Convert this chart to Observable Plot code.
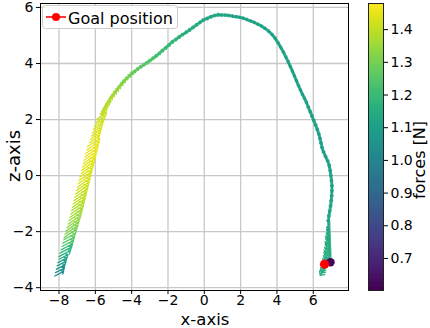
<!DOCTYPE html>
<html><head><meta charset="utf-8">
<script src="https://cdn.jsdelivr.net/npm/d3@7"></script>
<script src="https://cdn.jsdelivr.net/npm/@observablehq/plot@0.6"></script>
<style>
body{margin:0;background:#fff;}
#wrap{position:relative;width:430px;height:328px;overflow:hidden;font-family:"DejaVu Sans",sans-serif;background:#fff;}
#wrap svg{position:absolute;top:0;}
</style></head><body><div id="wrap"></div>
<script>
// trajectory positions (x, z), force magnitude, arrow direction (deg clockwise from up), arrow length (px)
const xs = [
 -7.99,-7.95,-7.91,-7.86,-7.81,-7.75,-7.69,-7.63,-7.57,-7.52,-7.47,-7.42,-7.38,-7.33,-7.27,-7.22,-7.16,-7.11,-7.06,-7.01,-6.97,-6.92,-6.88,-6.83,-6.79,-6.74,-6.70,-6.65,-6.61,-6.56,-6.51,-6.46,-6.42,-6.37,-6.32,-6.28,-6.23,-6.19,-6.14,-6.10,-6.05,-6.00,-5.95,-5.90,-5.85,-5.79,-5.72,-5.65,
 -5.55,-5.48,-5.41,-5.33,-5.24,-5.14,-5.03,-4.91,-4.79,-4.66,-4.53,-4.39,-4.24,-4.09,-3.93,-3.77,-3.60,-3.43,-3.26,-3.09,-2.92,-2.75,-2.57,-2.40,-2.22,-2.04,-1.86,-1.67,-1.48,-1.29,-1.10,-0.91,-0.72,-0.53,-0.34,-0.15,0.05,0.25,0.45,0.65,
 0.85,1.05,1.25,1.45,1.65,1.85,2.05,2.25,2.45,2.65,2.85,3.05,3.25,3.45,3.65,3.83,4.00,4.15,4.30,4.44,4.57,4.69,4.81,4.92,5.03,5.14,5.25,5.36,5.47,5.58,
 5.68,5.78,5.88,5.98,6.08,6.18,6.27,6.34,6.40,6.45,6.52,6.62,6.74,6.84,6.91,6.95,6.99,7.02,7.03,7.02,7.00,6.97,6.93,6.88,6.84,
 6.86,6.86,6.87,6.87,6.88,6.88,6.89,6.89,6.90,6.90,6.91,6.91,6.92,6.92,6.92,6.91,6.90
];
const zs = [
 -3.50,-3.38,-3.26,-3.14,-3.02,-2.90,-2.78,-2.66,-2.54,-2.42,-2.30,-2.18,-2.06,-1.94,-1.82,-1.70,-1.58,-1.46,-1.34,-1.22,-1.10,-0.98,-0.86,-0.74,-0.62,-0.50,-0.38,-0.26,-0.14,-0.02,0.10,0.22,0.34,0.46,0.58,0.70,0.82,0.94,1.06,1.18,1.30,1.42,1.54,1.66,1.78,1.90,2.02,2.14,
 2.30,2.40,2.49,2.58,2.68,2.78,2.88,2.98,3.08,3.19,3.29,3.39,3.49,3.58,3.67,3.75,3.84,3.91,3.98,4.06,4.14,4.22,4.31,4.41,4.51,4.61,4.72,4.81,4.90,4.99,5.07,5.15,5.24,5.33,5.42,5.51,5.58,5.64,5.69,5.72,
 5.73,5.73,5.72,5.70,5.68,5.66,5.63,5.59,5.54,5.49,5.43,5.37,5.29,5.20,5.09,4.96,4.80,4.64,4.47,4.30,4.13,3.96,3.79,3.62,3.45,3.28,3.12,2.96,2.82,2.68,
 2.52,2.36,2.20,2.04,1.88,1.72,1.56,1.40,1.24,1.08,0.92,0.76,0.60,0.44,0.26,0.08,-0.10,-0.28,-0.46,-0.64,-0.82,-1.00,-1.18,-1.36,-1.54,
 -1.72,-1.81,-1.90,-1.99,-2.08,-2.17,-2.26,-2.35,-2.44,-2.53,-2.62,-2.71,-2.80,-2.89,-2.98,-3.04,-3.10
];
const forces = [
 1.02,1.04,1.06,1.08,1.10,1.13,1.15,1.18,1.20,1.23,1.25,1.27,1.29,1.31,1.32,1.33,1.34,1.35,1.36,1.37,1.38,1.39,1.40,1.40,1.41,1.41,1.42,1.42,1.43,1.43,1.43,1.44,1.44,1.44,1.44,1.45,1.45,1.45,1.45,1.44,1.44,1.44,1.43,1.43,1.42,1.42,1.41,1.40,
 1.40,1.39,1.39,1.38,1.38,1.37,1.36,1.35,1.34,1.33,1.32,1.31,1.30,1.29,1.28,1.27,1.26,1.26,1.25,1.24,1.23,1.22,1.21,1.20,1.20,1.19,1.18,1.18,1.17,1.16,1.16,1.15,1.15,1.14,1.14,1.13,1.13,1.13,1.12,1.12,
 1.12,1.12,1.12,1.11,1.11,1.11,1.11,1.11,1.11,1.11,1.11,1.10,1.10,1.10,1.10,1.10,1.10,1.10,1.10,1.10,1.10,1.10,1.10,1.10,1.10,1.10,1.10,1.10,1.10,1.10,
 1.10,1.10,1.10,1.10,1.10,1.10,1.10,1.10,1.10,1.10,1.10,1.10,1.10,1.10,1.10,1.10,1.10,1.10,1.10,1.10,1.10,1.11,1.11,1.12,1.12,
 1.13,1.13,1.13,1.14,1.14,1.14,1.14,1.15,1.15,1.15,1.15,1.15,1.15,1.16,1.16,1.16,1.16
];
const rots = [
 62,62,62,62,62,62,62,62,62,62,62,62,55,55,55,55,55,55,55,55,55,55,55,55,55,55,55,55,55,55,55,55,55,55,55,55,55,55,55,55,52,52,52,52,52,52,52,52,
 45,45,45,45,45,45,45,45,45,45,45,45,45,45,55,55,55,55,55,55,55,55,55,55,55,55,55,55,55,55,55,55,55,55,55,55,72,72,72,72,
 90,92,94,96,98,100,103,106,109,112,115,118,122,128,134,140,146,150,152,154,155,156,156,156,156,156,157,158,158,158,
 158,158,158,158,160,162,164,166,166,164,158,154,154,160,168,172,176,178,180,183,186,188,190,190,190,
 200,201,202,203,204,205,206,207,208,209,210,211,212,213,214,215,216
];
const lens = [
 10,10,10,10,10,10,13,13,13,13,13,13,15,15,15,15,15,15,15,15,15,15,15,15,15,15,15,15,15,15,15,15,15,15,15,15,15,15,15,15,12,12,12,12,12,12,12,12,
 9,9,9,9,9,9,9,9,9,9,9,9,9,9,7,7,7,7,7,7,7,7,7,7,7,7,7,7,7,7,7,7,7,7,7,7,7,7,7,7,
 6,6,6,6,6,6,6,6,6,6,6,6,6,6,6,6,6,6,6,6,6,6,6,6,6,6,6,6,6,6,
 7,7,7,7,7,7,7,7,7,7,7,7,7,7,7,7,7,7,7,7,7,7,7,7,7,
 5,5,6,7,7,8,8,9,10,10,11,12,13,14,15,15,16
];
const wedgeStart = 143; // arrows from here on are drawn from their tail
const goalX = [6.62], goalZ = [-3.16];
const endX = [6.95], endZ = [-3.09], endForce = [0.61];
const xTicks = [-8,-6,-4,-2,0,2,4,6];
const zTicks = [-4,-2,0,2,4,6];
const cbTicks = [0.7,0.8,0.9,1.0,1.1,1.2,1.3,1.4];
const cbDomain = [0.602, 1.48];

const fmt = d => d < 0 ? "\u2212" + Math.abs(d) : String(d);
const pts = xs.map((x, i) => ({x, z: zs[i], f: forces[i], r: rots[i], l: lens[i], i}));
const links = pts.slice(47, -1).map((d, k) => ({a: d, b: pts[48 + k]}));
const color = {type: "linear", scheme: "viridis", domain: cbDomain};
const baseStyle = {fontFamily: "DejaVu Sans", fontSize: "14px", color: "black", background: "transparent", overflow: "visible"};

const main = Plot.plot({
  width: 360, height: 328,
  marginLeft: 40, marginRight: 12, marginTop: 3, marginBottom: 38,
  style: baseStyle,
  x: {domain: [-9.02, 7.94], ticks: xTicks, tickFormat: fmt, tickSize: 4, tickPadding: 1, label: null},
  y: {domain: [-4.1, 6.14], ticks: zTicks, tickFormat: fmt, tickSize: 4, tickPadding: 3, label: null},
  color,
  length: {type: "linear", domain: [0, 16], range: [0, 16]},
  marks: [
    Plot.ruleX(xTicks, {stroke: "#c8c8c8", strokeWidth: 1.3}),
    Plot.ruleY(zTicks, {stroke: "#c8c8c8", strokeWidth: 1.3}),
    Plot.link(links, {x1: d => d.a.x, y1: d => d.a.z, x2: d => d.b.x, y2: d => d.b.z, stroke: d => d.a.f, strokeWidth: 3}),
    Plot.vector(pts.filter(d => d.i < wedgeStart), {x: "x", y: "z", rotate: "r", length: "l", stroke: "f", anchor: "middle", strokeWidth: 1.3}),
    Plot.vector(pts.filter(d => d.i >= wedgeStart), {x: "x", y: "z", rotate: "r", length: "l", stroke: "f", anchor: "start", strokeWidth: 1.3}),
    Plot.dot(endX.map((x, i) => ({x, z: endZ[i], f: endForce[i]})), {x: "x", y: "z", fill: "f", r: 4.2}),
    Plot.dot(goalX.map((x, i) => ({x, z: goalZ[i]})), {x: "x", y: "z", fill: "red", r: 4.6}),
    Plot.frame({stroke: "black"})
  ]
});
main.style.left = "0px";

const nRamp = 220;
const step = (cbDomain[1] - cbDomain[0]) / nRamp;
const ramp = d3.range(nRamp).map(k => cbDomain[0] + k * step);
const cb = Plot.plot({
  width: 70, height: 328,
  marginLeft: 8, marginRight: 47, marginTop: 3, marginBottom: 38,
  style: baseStyle,
  x: {domain: [0, 1], axis: null},
  y: {domain: cbDomain, ticks: cbTicks, tickFormat: ".1f", axis: "right", tickSize: 4, tickPadding: 3, label: null},
  color,
  marks: [
    Plot.rect(ramp, {x1: () => 0, x2: () => 1, y1: d => d, y2: d => Math.min(d + step * 1.6, cbDomain[1]), fill: d => d}),
    Plot.frame({stroke: "#222"})
  ]
});
cb.style.left = "360px";

const wrap = document.getElementById("wrap");
wrap.appendChild(main);
wrap.appendChild(cb);

const ms = d3.select(main);
ms.append("text").attr("x", 205).attr("y", 324.5).attr("text-anchor", "middle")
  .attr("font-size", 16.5).attr("font-family", "DejaVu Sans").attr("fill", "black").text("x-axis");
ms.append("text").attr("transform", "translate(20,156) rotate(-90)").attr("text-anchor", "middle")
  .attr("font-size", 18).attr("font-family", "DejaVu Sans").attr("fill", "black").text("z-axis");
const lg = ms.append("g").attr("text-anchor", "start");
lg.append("rect").attr("x", 42.5).attr("y", 5.5).attr("width", 135).attr("height", 23).attr("rx", 3)
  .attr("fill", "white").attr("fill-opacity", 0.85).attr("stroke", "#cccccc");
lg.append("line").attr("x1", 46).attr("x2", 66).attr("y1", 17).attr("y2", 17).attr("stroke", "red").attr("stroke-width", 1.6);
lg.append("circle").attr("cx", 56).attr("cy", 17).attr("r", 4).attr("fill", "red");
lg.append("text").attr("x", 68).attr("y", 23.5).attr("text-anchor", "start").attr("font-size", 16).attr("font-family", "DejaVu Sans")
  .attr("fill", "black").text("Goal position");

d3.select(cb).append("text").attr("transform", "translate(65,160) rotate(-90)").attr("text-anchor", "middle")
  .attr("font-size", 16).attr("font-family", "DejaVu Sans").attr("fill", "black").text("forces [N]");
</script></body></html>
